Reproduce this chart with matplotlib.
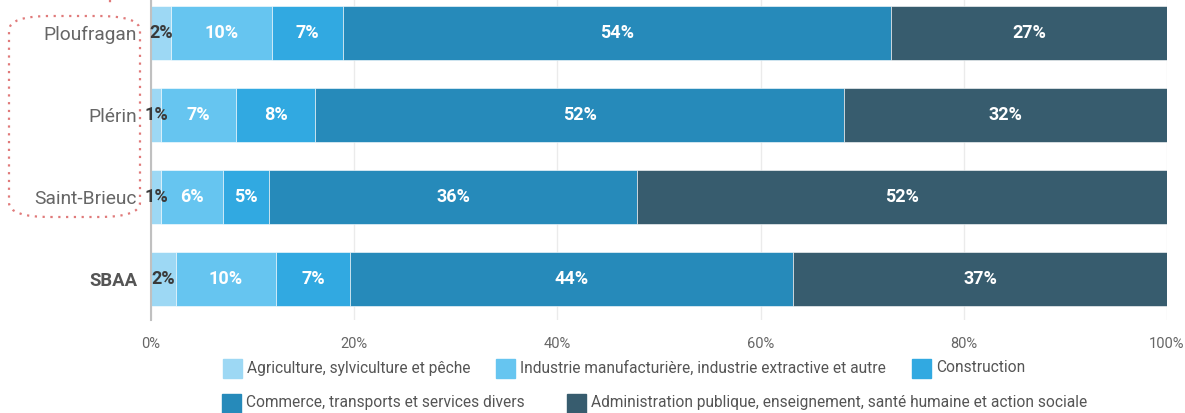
import matplotlib.pyplot as plt
from matplotlib.patches import FancyBboxPatch, Rectangle
from matplotlib.lines import Line2D

plt.rcParams['font.family'] = ['Roboto', 'DejaVu Sans']

# Données (part des emplois par secteur, en %)
communes = ['Ploufragan', 'Plérin', 'Saint-Brieuc', 'SBAA']
secteurs = ['Agriculture, sylviculture et pêche',
            'Industrie manufacturière, industrie extractive et autre',
            'Construction',
            'Commerce, transports et services divers',
            'Administration publique, enseignement, santé humaine et action sociale']
agriculture = [1.97, 0.98, 0.98, 2.45]
industrie = [9.93, 7.4, 6.1, 9.85]
construction = [6.98, 7.77, 4.55, 7.3]
commerce = [53.98, 52.1, 36.2, 43.6]
administration = [27.14, 31.75, 52.17, 36.8]
ticks = [0, 20, 40, 60, 80, 100]

series = [agriculture, industrie, construction, commerce, administration]
couleurs = ['#9dd8f4', '#66c5f0', '#31a9e1', '#268aba', '#375c6e']
couleurs_txt = ['#3a3a3a', 'white', 'white', 'white', 'white']

W, H = 1185, 413
fig = plt.figure(figsize=(W / 100, H / 100), dpi=100)
ax = fig.add_axes([151 / W, 1 - 320 / H, (1167 - 151) / W, 320 / H])

y = list(range(len(communes)))
gauche = [0.0] * len(communes)
for vals, c, ct, nom in zip(series, couleurs, couleurs_txt, secteurs):
    ax.barh(y, vals, left=gauche, height=0.66, color=c, edgecolor='#ffffff',
            linewidth=0.4, label=nom, zorder=3)
    for i, v in enumerate(vals):
        ax.text(gauche[i] + v / 2, y[i], f"{round(v)}%", ha='center', va='center',
                color=ct, fontsize=13, fontweight='bold', zorder=6)
    gauche = [g + v for g, v in zip(gauche, vals)]

ax.set_xlim(0, 100)
ax.set_ylim(3.5, -0.4)
ax.set_xticks(ticks)
ax.set_xticklabels([f"{t}%" for t in ticks], color='#666666', fontsize=10.5)
ax.set_yticks(y)
ax.set_yticklabels(communes, fontsize=13.8, color='#666666')
ax.get_yticklabels()[-1].set_fontweight('bold')
ax.get_yticklabels()[-1].set_fontsize(13.3)
ax.get_yticklabels()[-1].set_color('#555555')
ax.tick_params(axis='both', length=0)
ax.tick_params(axis='x', pad=12)
ax.tick_params(axis='y', pad=10)
ax.grid(axis='x', color='#ebebeb', linewidth=1, zorder=0)
for s in ['top', 'right', 'bottom']:
    ax.spines[s].set_visible(False)
ax.spines['left'].set_color('#c0c0c0')
ax.spines['left'].set_linewidth(1.5)
ax.spines['left'].set_zorder(4)

# Légende sur deux lignes
pos_legende = [(223, 368), (496, 368), (912, 368), (222, 403), (567, 403)]
for (px, py), c, nom in zip(pos_legende, couleurs, secteurs):
    fig.patches.append(Rectangle(((px) / W, 1 - (py + 10) / H), 19 / W, 19 / H,
                                 transform=fig.transFigure, color=c))
    fig.text((px + 24) / W, 1 - py / H, nom, fontsize=11.2, color='#555555',
             va='center', ha='left')

# Encadré pointillé autour des communes
boite = FancyBboxPatch((9 / W, 1 - 217 / H), 131 / W, 201 / H,
                       boxstyle="round,pad=0,rounding_size=0.035",
                       transform=fig.transFigure, fill=False,
                       edgecolor='#e07a7a', linestyle=(0, (1, 2.5)), linewidth=1.6)
fig.patches.append(boite)
fig.lines.append(Line2D([110 / W, 110 / W], [1, 1 - 6 / H], transform=fig.transFigure,
                        color='#e07a7a', linestyle=(0, (1, 2.5)), linewidth=1.6))

fig.savefig('out.png', dpi=100)
